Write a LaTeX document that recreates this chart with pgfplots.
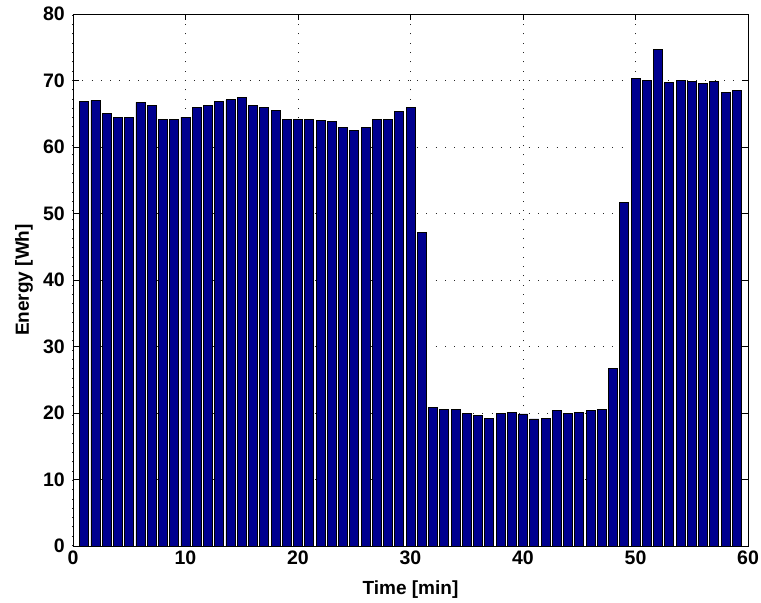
\documentclass[border=0pt]{standalone}
\usepackage{fontspec}
\setmainfont{Liberation Sans}
\usepackage{pgfplots}
\pgfplotsset{compat=1.18}
\definecolor{barblue}{RGB}{0,0,143}
\begin{document}
\begin{tikzpicture}
\useasboundingbox (-73bp,-57bp) rectangle (688bp,546bp);
\begin{axis}[
 at={(0,0)}, anchor=south west,
 scale only axis, width=675bp, height=532bp,
 xmin=0,xmax=60,ymin=0,ymax=80,
 xtick={0,10,...,60}, ytick={0,10,...,80},
 grid=major,
 major grid style={black!85, line width=1bp, dash pattern=on 1bp off 8.3bp},
 axis line style={black, line width=0.8bp},
 tick style={black, line width=0.8bp},
 major tick length=6bp,
 tick align=inside,
 /pgf/number format/assume math mode=true,
 ticklabel style={font=\fontsize{19.5bp}{22bp}\selectfont\bfseries},
 yticklabel style={inner sep=0pt, xshift=-8bp},
 xticklabel style={inner sep=0pt, yshift=-5bp},
 xlabel={Time [min]}, ylabel={Energy [Wh]},
 every axis x label/.style={at={(axis description cs:0.5,0)}, anchor=base, yshift=-48bp, font=\fontsize{19bp}{22bp}\selectfont\bfseries},
 every axis y label/.style={at={(axis description cs:0,0.5)}, xshift=-44bp, rotate=90, anchor=base, font=\fontsize{19bp}{22bp}\selectfont\bfseries},
]
\addplot[ybar, bar width=0.8, fill=barblue, draw=black, line width=0.9bp] coordinates {
(1,66.9) (2,67.0) (3,65.0) (4,64.5) (5,64.5) (6,66.7) (7,66.3) (8,64.2) (9,64.2) (10,64.5)
(11,65.9) (12,66.3) (13,66.9) (14,67.1) (15,67.5) (16,66.3) (17,65.9) (18,65.5) (19,64.2) (20,64.2)
(21,64.2) (22,64.0) (23,63.8) (24,62.9) (25,62.5) (26,62.9) (27,64.2) (28,64.2) (29,65.4) (30,65.9)
(31,47.1) (32,20.8) (33,20.6) (34,20.6) (35,20.0) (36,19.6) (37,19.2) (38,20.0) (39,20.15) (40,19.85)
(41,19.1) (42,19.2) (43,20.4) (44,20.0) (45,20.15) (46,20.45) (47,20.6) (48,26.7) (49,51.6) (50,70.3)
(51,69.95) (52,74.6) (53,69.65) (54,69.95) (55,69.85) (56,69.5) (57,69.8) (58,68.2) (59,68.5)
};
\end{axis}
\end{tikzpicture}
\end{document}
